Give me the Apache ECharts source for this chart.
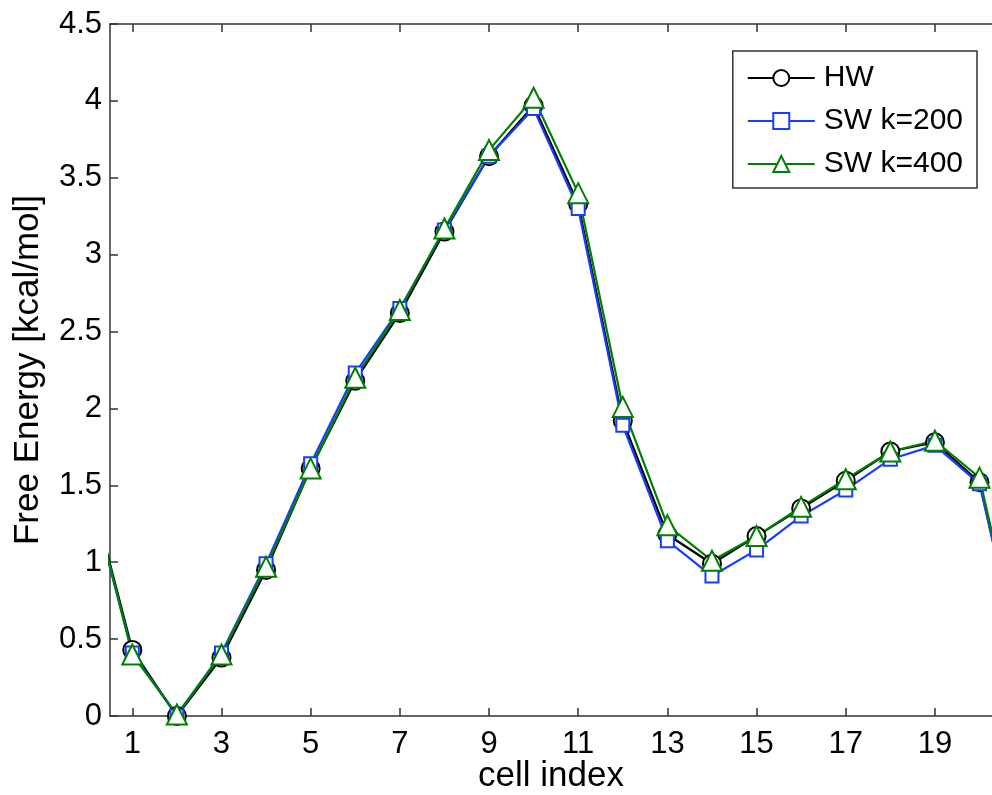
<!DOCTYPE html>
<html>
<head>
<meta charset="utf-8">
<title>Free Energy</title>
<script src="https://cdn.jsdelivr.net/npm/echarts@6/dist/echarts.min.js"></script>
<style>
  html, body { margin: 0; padding: 0; background: #fff; }
  #chart { width: 992px; height: 795px; }
</style>
</head>
<body>
<div id="chart"></div>
<script>
// cell 0 and 21 only show as the line running out of the plot on both sides
const cells = [0, 1, 2, 3, 4, 5, 6, 7, 8, 9, 10, 11, 12, 13, 14, 15, 16, 17, 18, 19, 20, 21]
const hw = [1.55, 0.43, 0.00, 0.38, 0.95, 1.61, 2.18, 2.62, 3.15, 3.64, 3.97, 3.33, 1.92, 1.18, 0.99, 1.17, 1.35, 1.53, 1.72, 1.78, 1.52, 0.25]
const sw200 = [1.52, 0.41, 0.00, 0.41, 0.99, 1.64, 2.23, 2.65, 3.16, 3.64, 3.95, 3.30, 1.89, 1.14, 0.91, 1.08, 1.30, 1.47, 1.67, 1.76, 1.51, 0.25]
const sw400 = [1.55, 0.40, 0.01, 0.40, 0.97, 1.61, 2.20, 2.64, 3.17, 3.68, 4.02, 3.40, 2.01, 1.24, 1.01, 1.17, 1.36, 1.54, 1.72, 1.79, 1.55, 0.27]
const xTicks = [1, 3, 5, 7, 9, 11, 13, 15, 17, 19]

const fontFamily = "'Liberation Sans', Arial, Helvetica, sans-serif"
const axisColor = '#333'

function pairs (values) {
  return cells.map((c, i) => [c, values[i]])
}

function makeSeries (name, values, color, symbol, size) {
  return {
    name: name,
    type: 'line',
    data: pairs(values),
    clip: true,
    symbol: symbol,
    symbolSize: size,
    showAllSymbol: true,
    color: color,
    lineStyle: { color: color, width: 2.2 },
    itemStyle: { color: color, borderColor: color, borderWidth: 2 },
    emphasis: { disabled: true },
    animation: false
  }
}

const baseX = {
  type: 'value',
  min: 0.5,
  max: 20.28,
  splitLine: { show: false },
  axisLine: { show: true, onZero: false, lineStyle: { color: axisColor, width: 1.5 } },
  axisTick: { show: true, inside: true, length: 8, customValues: xTicks, lineStyle: { color: axisColor, width: 1.5 } }
}

const chart = echarts.init(document.getElementById('chart'), null, { renderer: 'canvas' })
chart.setOption({
  animation: false,
  textStyle: { fontFamily: fontFamily },
  grid: { left: 110, top: 24, right: 0, bottom: 79, containLabel: false, outerBoundsMode: 'none' },
  legend: {
    orient: 'vertical',
    right: 15,
    top: 51,
    padding: [12, 14, 9, 14],
    itemGap: 13,
    itemWidth: 67,
    itemHeight: 20,
    backgroundColor: '#fff',
    borderColor: axisColor,
    borderWidth: 1.5,
    borderRadius: 0,
    selectedMode: false,
    textStyle: { fontSize: 30, color: '#000', fontFamily: fontFamily, padding: [0, 0, 0, 4] },
    data: ['HW', 'SW k=200', 'SW k=400']
  },
  xAxis: [
    {
      ...baseX,
      position: 'bottom',
      name: 'cell index',
      nameLocation: 'middle',
      nameGap: 43,
      nameMoveOverlap: false,
      nameTextStyle: { fontSize: 35, color: '#000', fontFamily: fontFamily },
      axisLabel: { show: true, customValues: xTicks, fontSize: 31, color: '#000', margin: 13, fontFamily: fontFamily }
    },
    {
      ...baseX,
      position: 'top',
      axisLabel: { show: false }
    }
  ],
  yAxis: {
    type: 'value',
    min: 0,
    max: 4.5,
    interval: 0.5,
    name: 'Free Energy [kcal/mol]',
    nameLocation: 'middle',
    nameGap: 64,
    nameTextStyle: { fontSize: 35, color: '#000', fontFamily: fontFamily },
    splitLine: { show: false },
    axisLine: { show: true, lineStyle: { color: axisColor, width: 1.5 } },
    axisTick: { show: true, inside: true, length: 8, lineStyle: { color: axisColor, width: 1.5 } },
    axisLabel: { fontSize: 31, color: '#000', margin: 8, fontFamily: fontFamily }
  },
  series: [
    makeSeries('HW', hw, '#000000', 'emptyCircle', 18),
    makeSeries('SW k=200', sw200, '#1a3cff', 'emptyRect', 13),
    makeSeries('SW k=400', sw400, '#008000', 'emptyTriangle', 20)
  ]
})
</script>
</body>
</html>
